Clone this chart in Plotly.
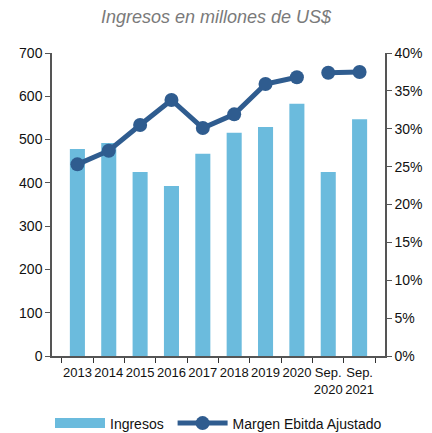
import plotly.graph_objects as go

categories = ["2013", "2014", "2015", "2016", "2017", "2018", "2019", "2020", "Sep.<br>2020", "Sep.<br>2021"]
ingresos = [478, 492, 425, 393, 467, 516, 529, 583, 425, 547]
margen = [25.3, 27.1, 30.5, 33.8, 30.1, 31.9, 35.9, 36.8, None, None]
margen_sep = [None, None, None, None, None, None, None, None, 37.4, 37.5]

bar_color = "#6BBBDD"
line_color = "#2F5C8F"
font = "Liberation Sans, Arial, sans-serif"

fig = go.Figure()
fig.add_trace(go.Bar(x=categories, y=ingresos, name="Ingresos", marker_color=bar_color,
                     marker_line_width=0, yaxis="y", showlegend=False))
# legend-only entry with a wide bar swatch
fig.add_trace(go.Scatter(x=[None], y=[None], name="Ingresos\u00a0", mode="lines",
                         line=dict(color=bar_color, width=11), yaxis="y", showlegend=True))
fig.add_trace(go.Scatter(x=categories, y=margen, name="Margen Ebitda Ajustado", mode="lines+markers",
                         line=dict(color=line_color, width=5), marker=dict(size=14, color=line_color),
                         yaxis="y2", connectgaps=False))
fig.add_trace(go.Scatter(x=categories, y=margen_sep, name="Margen Ebitda Ajustado", mode="lines+markers",
                         line=dict(color=line_color, width=5), marker=dict(size=14, color=line_color),
                         yaxis="y2", showlegend=False))

fig.update_layout(
    width=432, height=433,
    margin=dict(l=52, r=47, t=53, b=77, autoexpand=False),
    paper_bgcolor="white", plot_bgcolor="white",
    font=dict(family=font, size=14, color="#111111"),
    title=dict(text="<i>Ingresos en millones de US$</i>", x=0.5, xanchor="center", y=0.975, yanchor="top",
               font=dict(family=font, size=18, color="#7a7a7a")),
    bargap=0.52,
    showlegend=True,
    legend=dict(orientation="h", x=0.5, xanchor="center", y=-0.17, yanchor="top",
                font=dict(family=font, size=14, color="#111111"), itemwidth=50,
                tracegroupgap=0),
    xaxis=dict(showline=True, linecolor="#555555", linewidth=1.5, ticks="outside", tickson="boundaries",
               ticklen=5, tickcolor="#333333", tickangle=0, showgrid=False, automargin=False,
               tickfont=dict(size=13), ticklabelstandoff=4),
    yaxis=dict(range=[0, 700], dtick=100, showline=True, linecolor="#555555", linewidth=1.5,
               ticks="outside", ticklen=5, tickcolor="#555555", showgrid=False, zeroline=False,
               automargin=False),
    yaxis2=dict(range=[0, 40], dtick=5, ticksuffix="%", overlaying="y", side="right", showline=True,
                linecolor="#555555", linewidth=1.5, ticks="outside", ticklen=5, tickcolor="#555555",
                showgrid=False, zeroline=False, automargin=False),
)

fig.write_html("out.html", config={"displayModeBar": False},
               post_script="document.body.style.margin='0';document.body.style.overflow='hidden';")
